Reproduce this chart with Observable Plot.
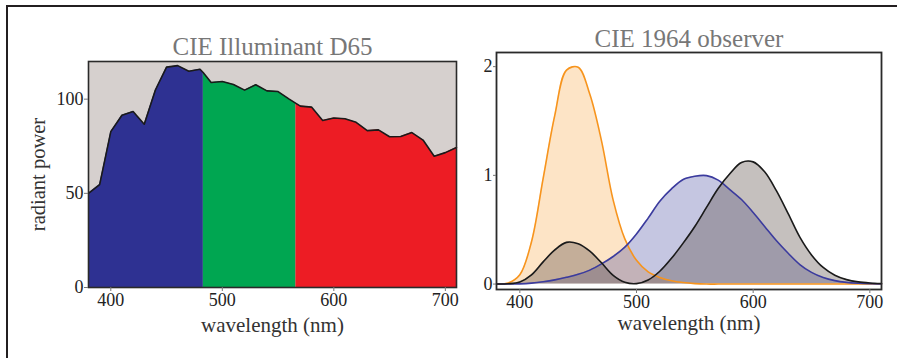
<!DOCTYPE html>
<html>
<head>
<meta charset="utf-8">
<script src="https://cdn.jsdelivr.net/npm/d3@7"></script>
<script src="https://cdn.jsdelivr.net/npm/@observablehq/plot@0.6"></script>
<style>
  html, body { margin: 0; padding: 0; background: #fff; }
  #wrap { position: relative; width: 897px; height: 358px; overflow: hidden; font-family: "Liberation Serif", "DejaVu Serif", serif; }
  #border { position: absolute; left: 6px; top: 5px; width: 1000px; height: 500px; border-top: 2px solid #231f20; border-left: 2px solid #231f20; }
  #left { position: absolute; left: 0; top: 0; }
  #right { position: absolute; left: 460px; top: 0; }
</style>
</head>
<body>
<div id="wrap">
  <div id="border"></div>
  <div id="left"></div>
  <div id="right"></div>
</div>
<script>
// ---- data ----
const wavelengths = [380,390,400,410,420,430,440,450,460,470,480,490,500,510,520,530,540,550,560,570,580,590,600,610,620,630,640,650,660,670,680,690,700,710];
const d65 = [49.98,54.65,82.75,91.49,93.43,86.68,104.86,117.01,117.81,114.86,115.92,108.81,109.35,107.80,104.79,107.69,104.41,104.05,100.00,96.33,95.79,88.69,90.01,89.60,87.70,83.29,83.70,80.03,80.21,82.28,78.28,69.72,71.61,74.35];
// band boundaries and curve values read at the boundaries
const bandEdges = [380, 483, 566, 710];
const edgeWavelengths = [483, 566];
const edgeValues = [114.0, 97.8];
const bandColors = ["#2e3192", "#00a651", "#ed1c24"];

const xbar = [0.000160,0.002362,0.019110,0.084736,0.204492,0.314679,0.383734,0.370702,0.302273,0.195618,0.080507,0.016172,0.003816,0.037465,0.117749,0.236491,0.376772,0.529826,0.705224,0.878655,1.014160,1.118520,1.123990,1.030480,0.856297,0.647467,0.431567,0.268329,0.152568,0.081261,0.040851,0.019941,0.009577,0.004553];
const ybar = [0.000017,0.000253,0.002004,0.008756,0.021391,0.038676,0.062077,0.089456,0.128201,0.185190,0.253589,0.339133,0.460777,0.606741,0.761757,0.875211,0.961988,0.991761,0.997340,0.955552,0.868934,0.777405,0.658341,0.527963,0.398057,0.283493,0.179828,0.107633,0.060281,0.031800,0.015905,0.007749,0.003734,0.001774];
const zbar = [0.000705,0.010482,0.086011,0.389366,0.972542,1.553480,1.967280,1.994800,1.745370,1.317560,0.772125,0.415254,0.218502,0.112044,0.060709,0.030451,0.013676,0.003988,0,0,0,0,0,0,0,0,0,0,0,0,0,0,0,0];

const xTicks = [400, 500, 600, 700];
const yTicksLeft = [0, 50, 100];
const yTicksRight = [0, 1, 2];

// ---- build tables ----
const d65Rows = wavelengths.map((w, i) => ({w, v: d65[i]}))
  .concat(edgeWavelengths.map((w, i) => ({w, v: edgeValues[i]})))
  .sort((a, b) => a.w - b.w);
const bands = bandColors.map((c, b) => ({
  color: c,
  rows: d65Rows.filter(r => r.w >= bandEdges[b] && r.w <= bandEdges[b + 1])
}));
const cmf = wavelengths.map((w, i) => ({w, x: xbar[i], y: ybar[i], z: zbar[i]}));

const FONT = "Liberation Serif, DejaVu Serif, serif";
const TICK_COLOR = "#222";
const fmt = d3.format("d");

// ---- left chart ----
const left = Plot.plot({
  width: 460, height: 358,
  marginLeft: 88, marginRight: 4, marginTop: 61, marginBottom: 71,
  style: {fontFamily: FONT, fontSize: "18px", background: "transparent", overflow: "visible"},
  x: {domain: [380, 710]},
  y: {domain: [0, 120]},
  marks: [
    Plot.frame({fill: "#d6d0ce", stroke: null}),
    ...bands.map(b => Plot.areaY(b.rows, {x: "w", y: "v", fill: b.color})),
    Plot.line(d65Rows, {x: "w", y: "v", stroke: "#1a1a1a", strokeWidth: 1.6}),
    Plot.frame({stroke: "#2a2a2a", strokeWidth: 1.6}),
    Plot.axisX({ticks: xTicks, tickFormat: fmt, tickSize: 4, tickPadding: 2, fontSize: 18, label: null, stroke: "#777", color: TICK_COLOR}),
    Plot.axisY({ticks: yTicksLeft, tickFormat: fmt, tickSize: 4, tickPadding: 1, fontSize: 18, label: null, stroke: "#777", color: TICK_COLOR}),
    Plot.text(["CIE Illuminant D65"], {frameAnchor: "top", lineAnchor: "bottom", dy: -7, fontSize: 25, fill: "#777"}),
    Plot.text(["wavelength (nm)"], {frameAnchor: "bottom", lineAnchor: "middle", dy: 38, fontSize: 21, fill: "#333"}),
    Plot.text(["radiant power"], {frameAnchor: "left", textAnchor: "middle", rotate: -90, lineAnchor: "middle", dx: -50, fontSize: 20.5, fill: "#333"})
  ]
});
document.getElementById("left").appendChild(left);

// ---- right chart ----
const right = Plot.plot({
  width: 437, height: 358,
  marginLeft: 36, marginRight: 16, marginTop: 52, marginBottom: 69,
  style: {fontFamily: FONT, fontSize: "18px", background: "transparent", overflow: "visible"},
  x: {domain: [380, 710]},
  y: {domain: [-0.05, 2.13]},
  marks: [
    Plot.areaY(cmf, {x: "w", y: "z", fill: "#f7941d", fillOpacity: 0.25, curve: "catmull-rom"}),
    Plot.areaY(cmf, {x: "w", y: "y", fill: "#2e3192", fillOpacity: 0.28, curve: "catmull-rom"}),
    Plot.areaY(cmf, {x: "w", y: "x", fill: "#5a4a44", fillOpacity: 0.35, curve: "catmull-rom"}),
    Plot.line(cmf, {x: "w", y: "z", stroke: "#f7941d", strokeWidth: 1.6, curve: "catmull-rom"}),
    Plot.line(cmf, {x: "w", y: "y", stroke: "#3b3b9e", strokeWidth: 1.6, curve: "catmull-rom"}),
    Plot.line(cmf, {x: "w", y: "x", stroke: "#1a1a1a", strokeWidth: 1.6, curve: "catmull-rom"}),
    Plot.frame({stroke: "#2a2a2a", strokeWidth: 1.8}),
    Plot.axisX({ticks: xTicks, tickFormat: fmt, tickSize: 4, tickPadding: 2, fontSize: 18, label: null, stroke: "#777", color: TICK_COLOR}),
    Plot.axisY({ticks: yTicksRight, tickFormat: fmt, tickSize: 3, tickPadding: 1, fontSize: 18, label: null, stroke: "#777", color: TICK_COLOR}),
    Plot.text(["CIE 1964 observer"], {frameAnchor: "top", lineAnchor: "bottom", dy: -6, fontSize: 25, fill: "#777"}),
    Plot.text(["wavelength (nm)"], {frameAnchor: "bottom", lineAnchor: "middle", dy: 34, fontSize: 21, fill: "#333"})
  ]
});
document.getElementById("right").appendChild(right);
</script>
</body>
</html>
